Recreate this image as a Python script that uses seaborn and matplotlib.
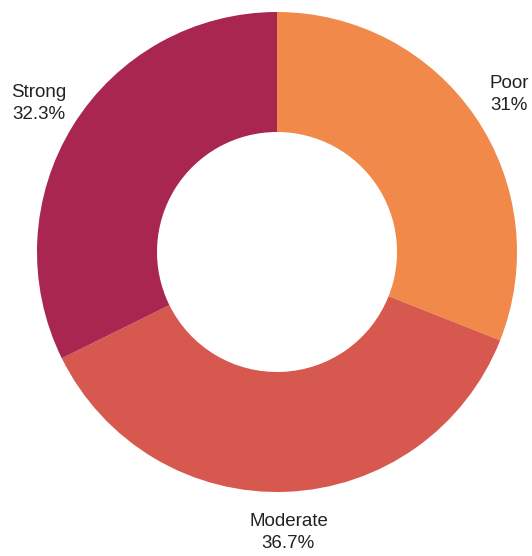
import matplotlib
matplotlib.use('Agg')
import matplotlib.pyplot as plt
import seaborn as sns

# data
categories = ['Poor', 'Moderate', 'Strong']
shares = [31.0, 36.7, 32.3]
share_labels = ['31%', '36.7%', '32.3%']
colors = ['#F0894A', '#D6584E', '#A8264F']

sns.set_style('white')
plt.rcParams['font.family'] = ['Liberation Sans', 'DejaVu Sans']

fig = plt.figure(figsize=(5.32, 5.56), dpi=100)
ax = fig.add_axes([0, 0, 1, 1])

labels = [f'{c}\n{s}' for c, s in zip(categories, share_labels)]
wedges, texts = ax.pie(shares, colors=colors, startangle=90, counterclock=False,
                       radius=240, labels=labels, labeldistance=1.17,
                       wedgeprops=dict(width=120, edgecolor='none'),
                       textprops=dict(fontsize=13.5, color='#222222', linespacing=1.4))
for t in texts:
    t.set_ha('center')
    t.set_va('center')
    t.set_multialignment('center')

# put the centre at the same pixel spot as the reference
ax.set_xlim(-277, 532 - 277)
ax.set_ylim(-(556 - 252), 252)
ax.set_aspect('equal')
ax.axis('off')

fig.savefig('out.png', dpi=100)
